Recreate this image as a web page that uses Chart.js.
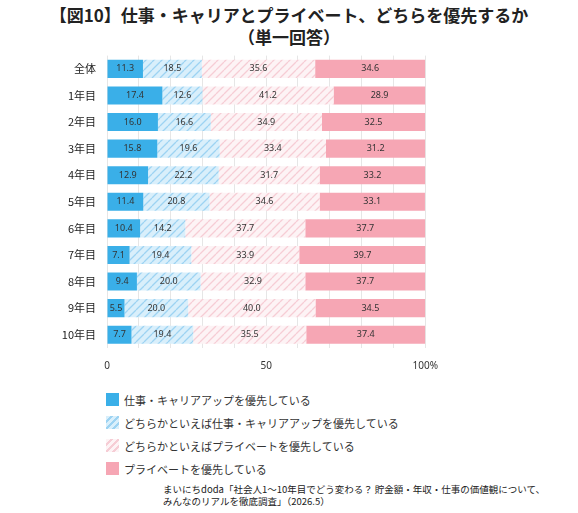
<!DOCTYPE html>
<html><head><meta charset="utf-8">
<script src="https://cdn.jsdelivr.net/npm/chart.js@4"></script>
<style>
body{margin:0;width:578px;height:513px;background:#fff;font-family:"Noto Sans CJK JP",sans-serif;position:relative;overflow:hidden}
#t{position:absolute;top:4px;left:0;width:578px;text-align:center;font-weight:bold;font-size:17px;line-height:22px;color:#222}
#c{position:absolute;left:0;top:46px;width:450px;height:338px}
#lg{position:absolute;left:106px;top:388px;font-size:11px;color:#333}
#lg div{height:23px;display:flex;align-items:center}
#lg span{display:inline-block;width:13px;height:13px;margin-right:5px}
#src{position:absolute;left:163px;top:483px;font-size:9.5px;line-height:12px;color:#222;white-space:nowrap}
</style></head><body>
<div id="t">【図10】仕事・キャリアとプライベート、どちらを優先するか<br>（単一回答）</div>
<div id="c"><canvas id="cv"></canvas></div>
<div id="lg"></div>
<div id="src">まいにちdoda「社会人1〜10年目でどう変わる？ 貯金額・年収・仕事の価値観について、<br>みんなのリアルを徹底調査」（2026.5）</div>
<script>
const categories=["全体","1年目","2年目","3年目","4年目","5年目","6年目","7年目","8年目","9年目","10年目"];
const seriesNames=["仕事・キャリアアップを優先している","どちらかといえば仕事・キャリアアップを優先している","どちらかといえばプライベートを優先している","プライベートを優先している"];
const work=[11.3,17.4,16.0,15.8,12.9,11.4,10.4,7.1,9.4,5.5,7.7];
const ratherWork=[18.5,12.6,16.6,19.6,22.2,20.8,14.2,19.4,20.0,20.0,19.4];
const ratherPrivate=[35.6,41.2,34.9,33.4,31.7,34.6,37.7,33.9,32.9,40.0,35.5];
const privateP=[34.6,28.9,32.5,31.2,33.2,33.1,37.7,39.7,37.7,34.5,37.4];
function pat(bg,fg){const c=document.createElement('canvas');c.width=8;c.height=8;const x=c.getContext('2d');x.fillStyle=bg;x.fillRect(0,0,8,8);x.strokeStyle=fg;x.lineWidth=1.3;x.beginPath();for(let i=-8;i<=16;i+=8){x.moveTo(i,8);x.lineTo(i+8,0);}x.stroke();return x.createPattern(c,'repeat');}
const fills=['#3aafe8',pat('#d9effb','#9dd3f2'),pat('#fdf3f5','#f6cdd5'),'#f6a6b4'];
const legendBg=['#3aafe8','repeating-linear-gradient(135deg,#d9effb 0 3px,#9dd3f2 3px 5px)','repeating-linear-gradient(135deg,#fdf3f5 0 3px,#f6cdd5 3px 5px)','#f6a6b4'];
document.getElementById('lg').innerHTML=seriesNames.map((n,i)=>`<div><span style="background:${legendBg[i]}"></span>${n}</div>`).join('');
const vals=[work,ratherWork,ratherPrivate,privateP];
const labelPlugin={id:'lbl',afterDatasetsDraw(ch){const x=ch.ctx;x.save();x.font='9px "Noto Sans",sans-serif';x.textAlign='center';x.textBaseline='middle';
ch.data.datasets.forEach((d,di)=>{ch.getDatasetMeta(di).data.forEach((b,i)=>{x.fillStyle='#333';x.fillText(d.data[i].toFixed(1),(b.x+b.base)/2,b.y);});});x.restore();}};
new Chart(document.getElementById('cv'),{type:'bar',
data:{labels:categories,datasets:vals.map((v,i)=>({label:seriesNames[i],data:v,backgroundColor:fills[i],borderWidth:0,barPercentage:0.68,categoryPercentage:1}))},
options:{indexAxis:'y',responsive:true,maintainAspectRatio:false,animation:false,layout:{padding:{top:6,right:20}},
plugins:{legend:{display:false},tooltip:{enabled:false}},
scales:{x:{stacked:true,min:0,max:100,border:{display:false},grid:{color:'#e6e6e6',drawTicks:false},ticks:{stepSize:10,padding:12,maxRotation:0,minRotation:0,autoSkip:false,color:'#333',font:{size:10,family:'"Noto Sans",sans-serif'},callback:v=>v===0?'0':v===50?'50':v===100?'100%':''}},
y:{stacked:true,border:{display:false},grid:{display:false},afterFit:s=>{s.width=107},ticks:{color:'#222',font:{size:11,family:'"Noto Sans CJK JP"'}}}}},
plugins:[labelPlugin]});
</script></body></html>
